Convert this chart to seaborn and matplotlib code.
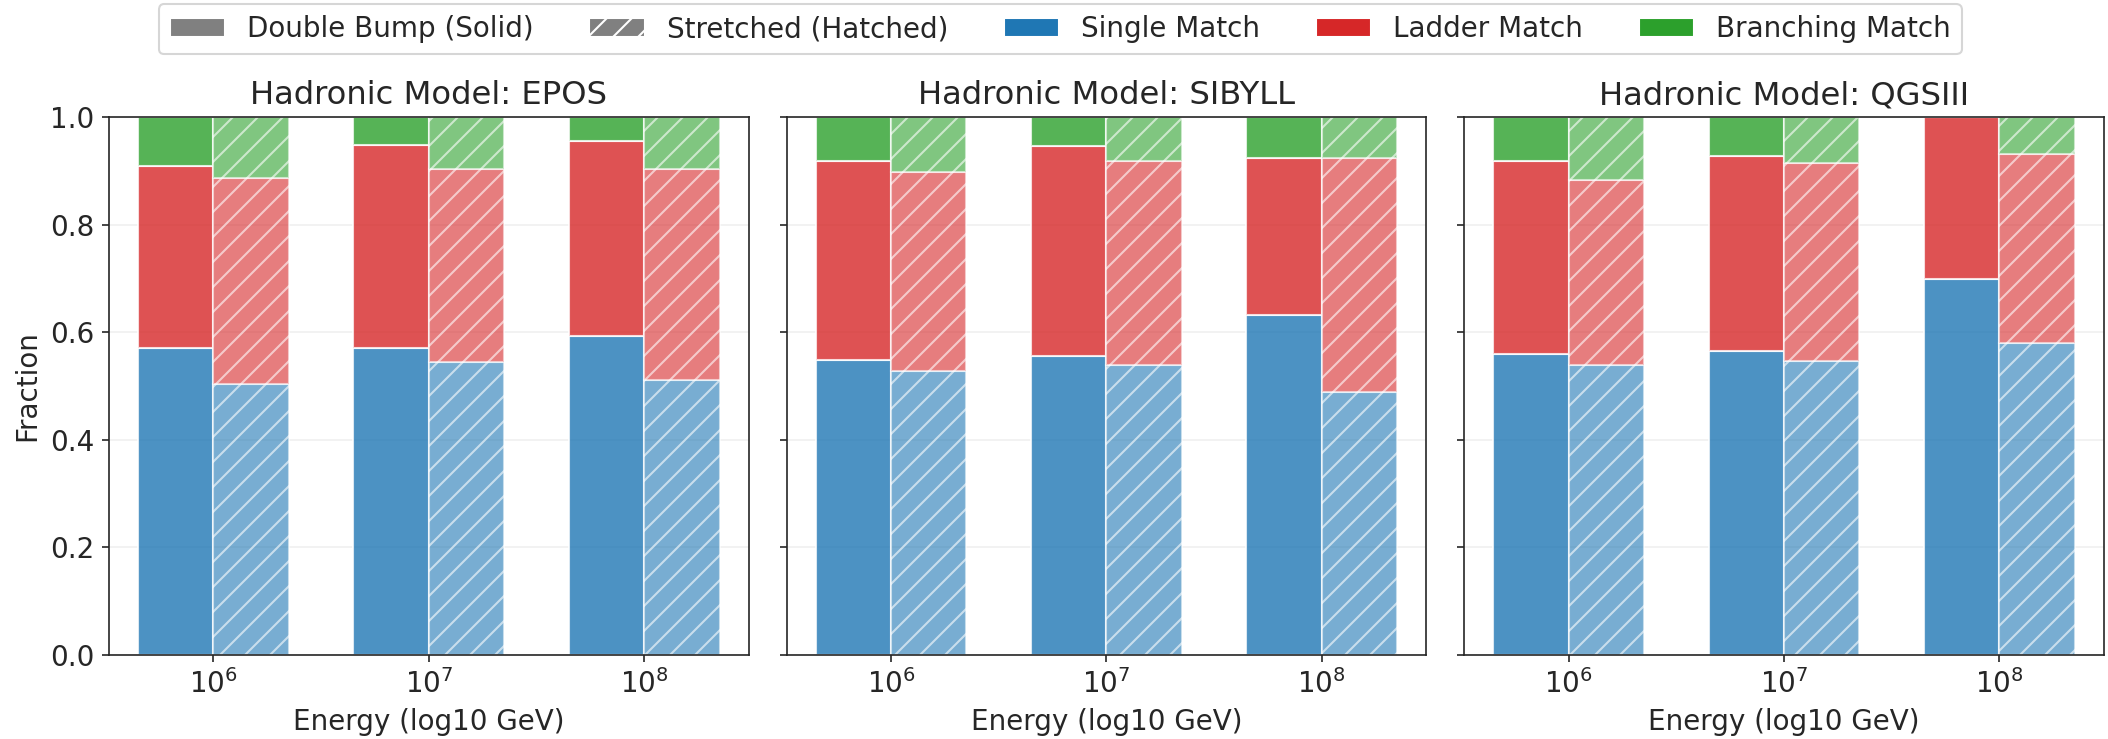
import numpy as np
import matplotlib
matplotlib.use("Agg")
import matplotlib.pyplot as plt
from matplotlib.patches import Patch
import seaborn as sns

# Hadronic models and energy bins
models = ["EPOS", "SIBYLL", "QGSIII"]
energy_labels = ["$10^6$", "$10^7$", "$10^8$"]

# Fractions per model (rows) and energy bin (columns)
# Double Bump reconstruction (solid bars)
single_double = [[0.571, 0.571, 0.593],
                 [0.549, 0.555, 0.632],
                 [0.560, 0.565, 0.698]]
ladder_double = [[0.338, 0.376, 0.362],
                 [0.370, 0.391, 0.292],
                 [0.359, 0.363, 0.302]]
branching_double = [[0.091, 0.053, 0.045],
                    [0.081, 0.054, 0.076],
                    [0.081, 0.072, 0.000]]

# Stretched reconstruction (hatched bars)
single_stretched = [[0.504, 0.544, 0.512],
                    [0.528, 0.539, 0.488],
                    [0.539, 0.547, 0.579]]
ladder_stretched = [[0.382, 0.360, 0.392],
                    [0.370, 0.380, 0.436],
                    [0.344, 0.367, 0.353]]
branching_stretched = [[0.114, 0.096, 0.096],
                       [0.102, 0.081, 0.076],
                       [0.117, 0.086, 0.068]]

category_names = ["Single Match", "Ladder Match", "Branching Match"]

sns.set_style("ticks")
plt.rcParams["font.family"] = ["DejaVu Sans"]

palette = sns.color_palette("tab10")
cat_colors = [palette[0], palette[3], palette[2]]

fs_text = 13.3
fs_title = 15.5

fig, axes = plt.subplots(1, 3, figsize=(2108 / 150, 739 / 150), dpi=150, sharey=True)
fig.subplots_adjust(left=0.0517, right=0.998, bottom=0.1137, top=0.8417, wspace=0.0594)

width = 0.35
x = np.arange(len(energy_labels))

for m, ax in enumerate(axes):
    solid = [single_double[m], ladder_double[m], branching_double[m]]
    hatched = [single_stretched[m], ladder_stretched[m], branching_stretched[m]]

    bottom = np.zeros(len(x))
    for vals, color in zip(solid, cat_colors):
        vals = np.asarray(vals)
        ax.bar(x - width / 2, vals, width, bottom=bottom, color=color,
               alpha=0.8, edgecolor="white", linewidth=1)
        bottom += vals

    bottom = np.zeros(len(x))
    for vals, color in zip(hatched, cat_colors):
        vals = np.asarray(vals)
        ax.bar(x + width / 2, vals, width, bottom=bottom, color=color,
               alpha=0.6, edgecolor="white", linewidth=1, hatch="//")
        bottom += vals

    ax.set_title(f"Hadronic Model: {models[m]}", fontsize=fs_title)
    ax.set_xticks(x)
    ax.set_xticklabels(energy_labels, fontsize=fs_text)
    ax.set_xlabel("Energy (log10 GeV)", fontsize=fs_text)
    ax.set_ylim(0, 1.0)
    ax.set_yticks(np.arange(0, 1.01, 0.2))
    ax.tick_params(axis="y", labelsize=fs_text)
    ax.grid(axis="y", alpha=0.3)
    ax.set_axisbelow(True)
    for spine in ax.spines.values():
        spine.set_visible(True)

axes[0].set_ylabel("Fraction", fontsize=fs_text)

handles = [
    Patch(facecolor="gray", label="Double Bump (Solid)"),
    Patch(facecolor="gray", hatch="//", label="Stretched (Hatched)"),
] + [Patch(facecolor=c, label=n) for c, n in zip(cat_colors, category_names)]

fig.legend(handles=handles, loc="upper center", bbox_to_anchor=(0.503, 1.013),
           ncol=5, fontsize=fs_text, frameon=True)

fig.savefig("out.png", dpi=150)
